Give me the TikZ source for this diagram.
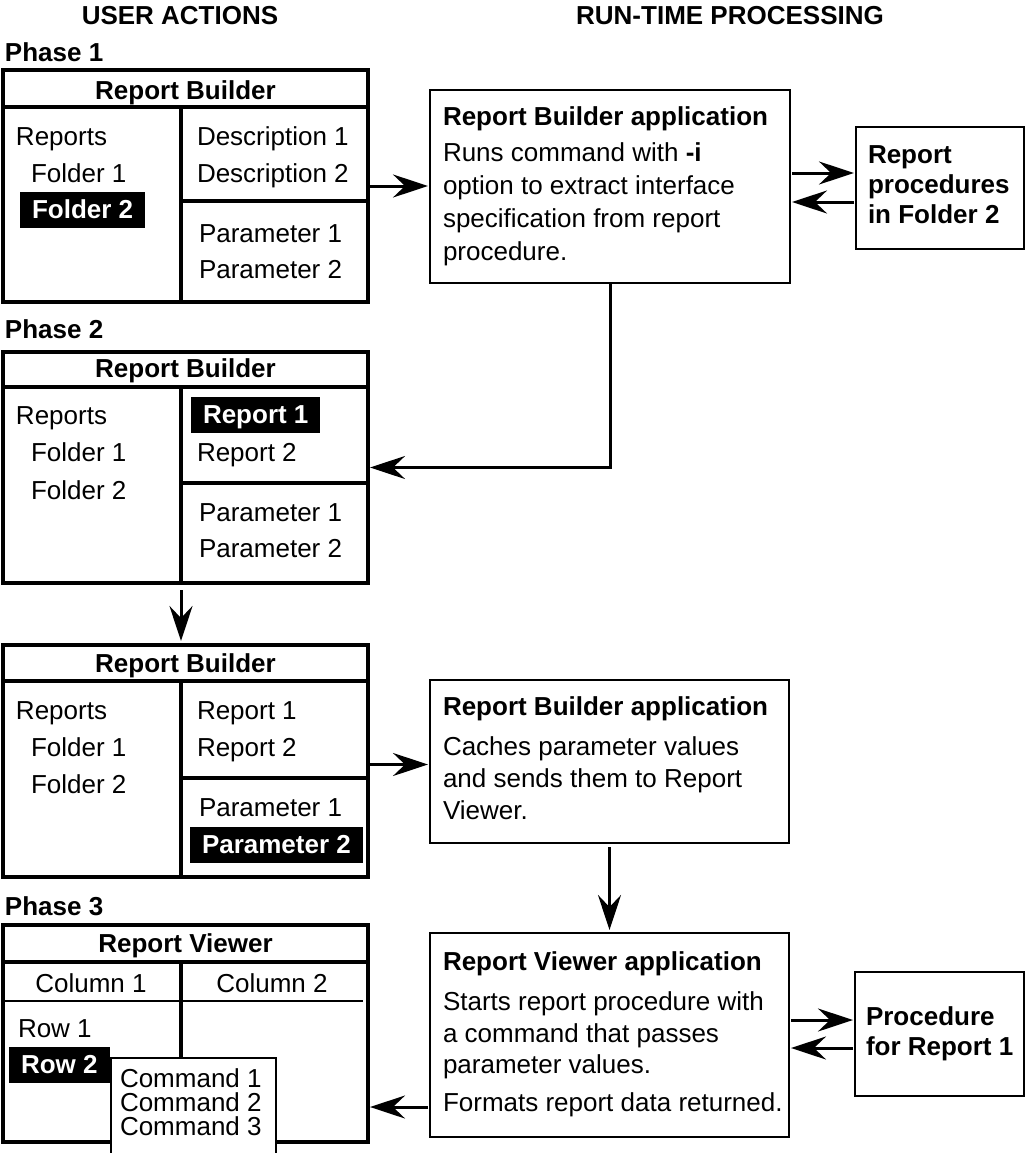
\documentclass[tikz,border=0pt]{standalone}
\usepackage{fontspec}
\setmainfont{Liberation Sans}
\usetikzlibrary{arrows.meta,calc}
\begin{document}
\begin{tikzpicture}[x=1pt,y=-1pt,
  every node/.style={inner sep=0pt, outer sep=0pt},
  txt/.style={anchor=base west, font=\fontsize{26}{30}\selectfont},
  btxt/.style={anchor=base west, font=\fontsize{26}{30}\selectfont\bfseries},
  ctxt/.style={anchor=base, font=\fontsize{26}{30}\selectfont},
  bctr/.style={anchor=base, font=\fontsize{26}{30}\selectfont\bfseries},
  uiframe/.style={draw, line width=3.5pt, anchor=north west},
  appbox/.style={draw, line width=1.3pt, anchor=north west},
  divline/.style={line width=3.5pt},
  thinline/.style={line width=1.3pt},
  hl/.style={anchor=base west, fill=black, text=white, font=\fontsize{26}{30}\selectfont\bfseries, inner xsep=12pt, inner ysep=7pt, text height=19pt, text depth=3pt},
  arr/.style={line width=3pt, -{Stealth[length=35pt,width=23pt,inset=12pt]}, shorten <=2pt, shorten >=2pt},
]
\useasboundingbox (0,0) rectangle (1026,1153);

% headers
\node[bctr] (hua) at (180,25) {USER ACTIONS};
\node[bctr] (hrt) at (730,25) {RUN-TIME PROCESSING};
\node[btxt] (ph1) at (5,62) {Phase 1};
\node[btxt] (ph2) at (5,338) {Phase 2};
\node[btxt] (ph3) at (5,915) {Phase 3};

% ---------- Phase 1 box ----------
\node[uiframe, minimum width=365pt, minimum height=232pt] (b1) at (3,70) {};
\draw[divline] (3,107) -- (368,107);
\draw[divline] (181,107) -- (181,302);
\draw[divline] (181,201) -- (368,201);
\node[bctr] (b1t) at (185.5,100) {Report Builder};
\node[txt] (b1r) at (16,146) {Reports};
\node[txt] (b1f1) at (31,182) {Folder 1};
\node[hl] (b1f2) at (20,218) {Folder 2};
\node[txt] (b1d1) at (197,146) {Description 1};
\node[txt] (b1d2) at (197,182) {Description 2};
\node[txt] (b1p1) at (199,242) {Parameter 1};
\node[txt] (b1p2) at (199,278) {Parameter 2};

% ---------- Phase 2 box ----------
\node[uiframe, minimum width=365pt, minimum height=231pt] (b2) at (3,352) {};
\draw[divline] (3,387) -- (368,387);
\draw[divline] (181,387) -- (181,583);
\draw[divline] (181,483) -- (368,483);
\coordinate (b2v) at (181,483);
\node[bctr] (b2t) at (185.5,377) {Report Builder};
\node[txt] (b2r) at (16,424) {Reports};
\node[txt] (b2f1) at (31,461) {Folder 1};
\node[txt] (b2f2) at (31,499) {Folder 2};
\node[hl] (b2r1) at (191,423) {Report 1};
\node[txt] (b2r2) at (197,461) {Report 2};
\node[txt] (b2p1) at (199,521) {Parameter 1};
\node[txt] (b2p2) at (199,557) {Parameter 2};

% ---------- Phase 2b box ----------
\node[uiframe, minimum width=365pt, minimum height=232pt] (b3) at (3,645) {};
\draw[divline] (3,681) -- (368,681);
\draw[divline] (181,681) -- (181,877);
\draw[divline] (181,778) -- (368,778);
\node[bctr] (b3t) at (185.5,672) {Report Builder};
\node[txt] (b3r) at (16,719) {Reports};
\node[txt] (b3f1) at (31,756) {Folder 1};
\node[txt] (b3f2) at (31,793) {Folder 2};
\node[txt] (b3r1) at (197,719) {Report 1};
\node[txt] (b3r2) at (197,756) {Report 2};
\node[txt] (b3p1) at (199,816) {Parameter 1};
\node[hl] (b3p2) at (190,853) {Parameter 2};

% ---------- Phase 3 viewer ----------
\node[uiframe, minimum width=365pt, minimum height=217pt] (b4) at (3,925) {};
\draw[divline] (3,962) -- (368,962);
\draw[divline] (181,962) -- (181,1142);
\draw[thinline] (3,1001) -- (363,1001);
\node[bctr] (b4t) at (185.5,952) {Report Viewer};
\node[ctxt] (b4c1) at (91,992) {Column 1};
\node[ctxt] (b4c2) at (272,992) {Column 2};
\node[txt] (b4w1) at (18,1037) {Row 1};
\node[hl] (b4w2) at (9,1073) {Row 2};
\node[appbox, fill=white, minimum width=165pt, minimum height=110pt] (pop) at (111,1058) {};
\node[txt] (cm1) at (120,1087) {Command 1};
\node[txt] (cm2) at (120,1111) {Command 2};
\node[txt] (cm3) at (120,1135) {Command 3};

% ---------- run-time boxes ----------
\node[appbox, minimum width=360pt, minimum height=193pt] (rb1) at (430,90) {};
\node[btxt] (rb1t) at (443,125) {Report Builder application};
\node[txt] (rb1a) at (443,161) {Runs command with \textbf{-i}};
\node[txt] (rb1b) at (443,194) {option to extract interface};
\node[txt] (rb1c) at (443,227) {specification from report};
\node[txt] (rb1d) at (443,260) {procedure.};

\node[appbox, minimum width=168pt, minimum height=122pt] (pr1) at (856,127) {};
\node[btxt] (pr1a) at (868,163) {Report};
\node[btxt] (pr1b) at (868,193) {procedures};
\node[btxt] (pr1c) at (868,223) {in Folder 2};

\node[appbox, minimum width=359pt, minimum height=163pt] (rb3) at (430,680) {};
\node[btxt] (rb3t) at (443,715) {Report Builder application};
\node[txt] (rb3a) at (443,755) {Caches parameter values};
\node[txt] (rb3b) at (443,787) {and sends them to Report};
\node[txt] (rb3c) at (443,819) {Viewer.};

\node[appbox, minimum width=359pt, minimum height=204pt] (va) at (430,933) {};
\node[btxt] (vat) at (443,970) {Report Viewer application};
\node[txt] (vaa) at (443,1010) {Starts report procedure with};
\node[txt] (vab) at (443,1042) {a command that passes};
\node[txt] (vac) at (443,1073) {parameter values.};
\node[txt] (vad) at (443,1111) {Formats report data returned.};

\node[appbox, minimum width=169pt, minimum height=124pt] (pr2) at (855,972) {};
\node[btxt] (pr2a) at (866,1025) {Procedure};
\node[btxt] (pr2b) at (866,1055) {for Report 1};

% ---------- connectors ----------
\draw[arr] (b1.east) -- (b1.east -| rb1.west);
\draw[arr] ([yshift=13.5pt]rb1.east) -- ([yshift=13.5pt]rb1.east -| pr1.west);
\draw[arr] ([yshift=-15.5pt]rb1.east -| pr1.west) -- ([yshift=-15.5pt]rb1.east);
\draw[arr, shorten <=0pt] (rb1.south) |- (b2.east);
\draw[arr, shorten <=7pt, shorten >=4pt] (b2.south -| b2v) -- (b3.north -| b2v);
\draw[arr] ([yshift=-3.5pt]b3.east) -- ([yshift=-3.5pt]b3.east -| rb3.west);
\draw[arr, shorten <=4pt, shorten >=3pt] (rb3.south) -- (va.north);
\draw[arr] ([yshift=15pt]va.east) -- ([yshift=15pt]va.east -| pr2.west);
\draw[arr] ([yshift=-13pt]va.east -| pr2.west) -- ([yshift=-13pt]va.east);
\coordinate (a8) at (400,1107);
\draw[arr] (va.west |- a8) -- (b4.east |- a8);
\end{tikzpicture}
\end{document}
